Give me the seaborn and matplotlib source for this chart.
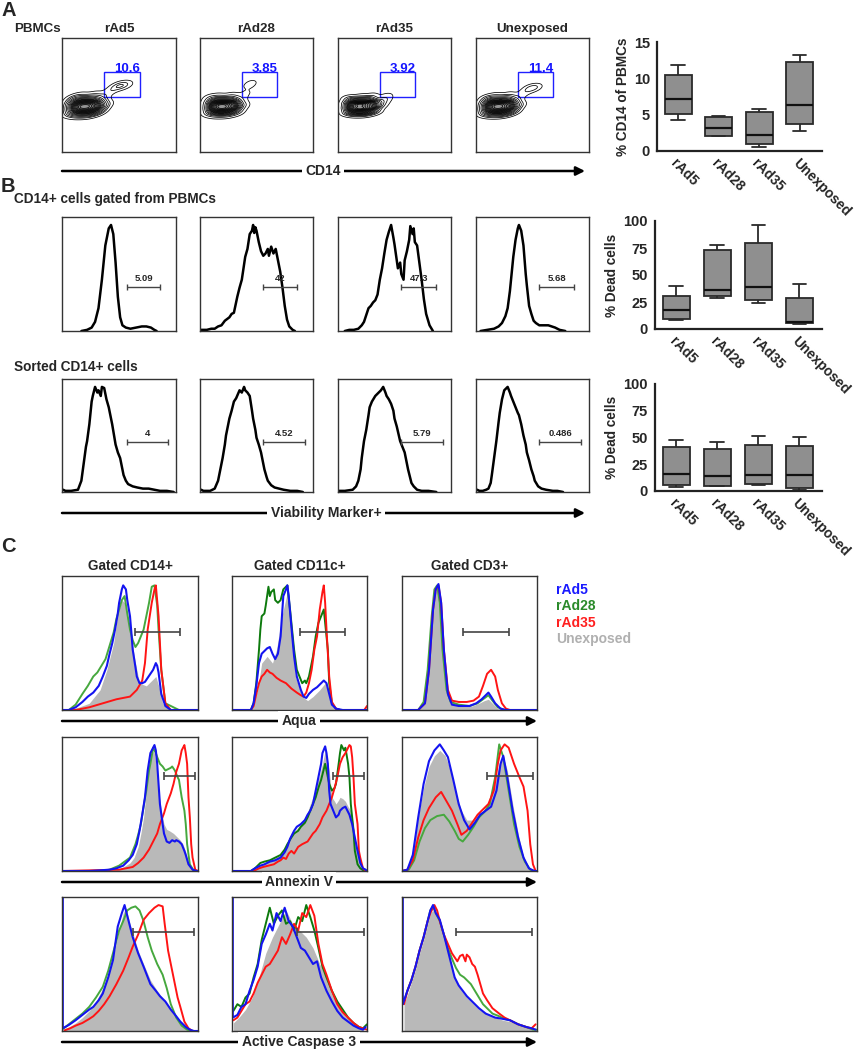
import numpy as np
import pandas as pd
import matplotlib
matplotlib.use('Agg')
import matplotlib.pyplot as plt
import seaborn as sns

# ---------------- data ----------------
groups = ['rAd5', 'rAd28', 'rAd35', 'Unexposed']

# A: % CD14 of PBMCs  (min, q1, median, q3, max)
cd14_box = [[4.3, 5.1, 7.1, 10.4, 11.9],
            [2.0, 2.1, 3.2, 4.7, 4.8],
            [0.5, 1.0, 2.2, 5.3, 5.8],
            [2.8, 3.7, 6.3, 12.2, 13.2]]
# B: % dead cells, CD14+ gated from PBMCs
dead_gated_box = [[8, 9, 18, 31, 40],
                  [29, 31, 36, 73, 78],
                  [24, 27, 39, 80, 96],
                  [4.5, 5.5, 6.5, 29, 42]]
# B: % dead cells, sorted CD14+
dead_sorted_box = [[3.5, 5.5, 15.5, 41, 48],
                   [4.5, 5, 14, 39, 46],
                   [5.5, 6.5, 14.5, 43, 51],
                   [0.5, 3, 15, 42, 50]]

# A: gate percentages and contour events (x, y, weight) in relative units
gate_a = ['10.6', '3.85', '3.92', '11.4']
blob_events = [(0.09, 0.35, 3), (0.09, 0.39, 4), (0.09, 0.43, 3.5), (0.09, 0.47, 1.5),
               (0.14, 0.34, 3), (0.14, 0.38, 5), (0.14, 0.42, 5), (0.14, 0.46, 2.5),
               (0.19, 0.34, 3), (0.19, 0.38, 5), (0.19, 0.42, 5), (0.19, 0.46, 2.5),
               (0.24, 0.34, 3), (0.24, 0.38, 5), (0.24, 0.42, 5), (0.24, 0.46, 2.5),
               (0.29, 0.35, 2.5), (0.29, 0.39, 4), (0.29, 0.43, 4), (0.29, 0.47, 2),
               (0.33, 0.36, 2), (0.33, 0.40, 3), (0.33, 0.44, 2.5), (0.37, 0.41, 1.5)]
tail_rad5 = [(0.16, 0.50, 0.5), (0.28, 0.51, 0.6), (0.38, 0.50, 0.8), (0.43, 0.54, 0.7),
             (0.48, 0.575, 1.2), (0.52, 0.585, 1.4), (0.56, 0.585, 0.8)]
tail_rad28 = [(0.16, 0.49, 0.5), (0.28, 0.50, 0.5), (0.37, 0.48, 0.6), (0.41, 0.52, 0.5),
              (0.43, 0.58, 0.6), (0.46, 0.61, 0.5)]
tail_rad35 = [(0.39, 0.44, 1.6), (0.42, 0.47, 1.2), (0.44, 0.50, 0.6), (0.31, 0.50, 0.6),
              (0.21, 0.50, 0.4)]
tail_unexp = [(0.17, 0.50, 0.5), (0.29, 0.51, 0.5), (0.39, 0.49, 0.7), (0.44, 0.53, 0.7),
              (0.48, 0.56, 1.2), (0.52, 0.565, 1.2)]

# B: viability histograms (x, y) relative
b_gated_rad5 = [(0.17, 0), (0.22, 0.01), (0.26, 0.03), (0.29, 0.08), (0.32, 0.2), (0.35, 0.45), (0.38, 0.75),
                (0.41, 0.9), (0.43, 0.93), (0.45, 0.85), (0.47, 0.6), (0.49, 0.3), (0.51, 0.12), (0.53, 0.05),
                (0.56, 0.03), (0.6, 0.02), (0.65, 0.03), (0.7, 0.04), (0.74, 0.04), (0.78, 0.03), (0.81, 0.01),
                (0.83, 0)]
b_gated_rad28 = [(0.01, 0.01), (0.06, 0.01), (0.10, 0.02), (0.13, 0.02), (0.16, 0.04), (0.19, 0.05),
                 (0.22, 0.09), (0.26, 0.12), (0.28, 0.15), (0.30, 0.16), (0.33, 0.3), (0.35, 0.38),
                 (0.37, 0.45), (0.40, 0.65), (0.42, 0.72), (0.44, 0.85), (0.46, 0.88), (0.47, 0.93),
                 (0.48, 0.86), (0.49, 0.91), (0.50, 0.88), (0.52, 0.78), (0.54, 0.7), (0.56, 0.66),
                 (0.58, 0.68), (0.60, 0.72), (0.61, 0.66), (0.63, 0.74), (0.65, 0.68), (0.67, 0.72),
                 (0.69, 0.62), (0.71, 0.52), (0.73, 0.38), (0.75, 0.22), (0.77, 0.1), (0.79, 0.04),
                 (0.82, 0.01), (0.84, 0)]
b_gated_rad35 = [(0.06, 0), (0.10, 0.01), (0.14, 0.01), (0.18, 0.02), (0.21, 0.05), (0.23, 0.08),
                 (0.25, 0.14), (0.27, 0.2), (0.29, 0.22), (0.31, 0.25), (0.33, 0.27), (0.35, 0.32),
                 (0.37, 0.45), (0.39, 0.55), (0.41, 0.68), (0.43, 0.8), (0.45, 0.87), (0.47, 0.93),
                 (0.49, 0.82), (0.50, 0.76), (0.52, 0.62), (0.53, 0.55), (0.55, 0.6), (0.56, 0.5),
                 (0.58, 0.45), (0.59, 0.62), (0.61, 0.7), (0.63, 0.8), (0.64, 0.92), (0.66, 0.85),
                 (0.67, 0.9), (0.68, 0.78), (0.70, 0.75), (0.72, 0.6), (0.74, 0.45), (0.76, 0.28),
                 (0.78, 0.15), (0.81, 0.05), (0.84, 0)]
b_gated_unexp = [(0.04, 0), (0.10, 0.01), (0.16, 0.02), (0.20, 0.04), (0.23, 0.07), (0.26, 0.13),
                 (0.28, 0.2), (0.30, 0.35), (0.31, 0.45), (0.33, 0.65), (0.35, 0.8), (0.37, 0.9),
                 (0.38, 0.93), (0.40, 0.88), (0.42, 0.75), (0.44, 0.5), (0.45, 0.4), (0.47, 0.22),
                 (0.49, 0.15), (0.51, 0.09), (0.53, 0.07), (0.56, 0.05), (0.60, 0.05), (0.64, 0.05),
                 (0.67, 0.04), (0.70, 0.03), (0.74, 0.01), (0.79, 0)]
b_sorted_rad5 = [(0.01, 0.02), (0.03, 0.01), (0.08, 0.01), (0.14, 0.02), (0.17, 0.1), (0.19, 0.25),
                 (0.21, 0.4), (0.22, 0.45), (0.24, 0.6), (0.26, 0.8), (0.27, 0.85), (0.29, 0.93),
                 (0.31, 0.88), (0.32, 0.9), (0.34, 0.85), (0.35, 0.93), (0.37, 0.92), (0.39, 0.82),
                 (0.41, 0.75), (0.43, 0.65), (0.44, 0.6), (0.46, 0.48), (0.47, 0.42), (0.49, 0.35),
                 (0.51, 0.3), (0.53, 0.2), (0.54, 0.15), (0.56, 0.1), (0.58, 0.07), (0.62, 0.05),
                 (0.66, 0.04), (0.71, 0.03), (0.76, 0.03), (0.81, 0.02), (0.86, 0.01), (0.92, 0.01),
                 (0.98, 0)]
b_sorted_rad28 = [(0.01, 0.02), (0.03, 0.01), (0.09, 0.01), (0.13, 0.03), (0.16, 0.1), (0.18, 0.2),
                  (0.20, 0.3), (0.22, 0.42), (0.23, 0.5), (0.25, 0.6), (0.26, 0.65), (0.28, 0.72),
                  (0.30, 0.8), (0.32, 0.83), (0.35, 0.9), (0.37, 0.88), (0.39, 0.93), (0.40, 0.9),
                  (0.42, 0.88), (0.44, 0.85), (0.46, 0.72), (0.47, 0.65), (0.49, 0.55), (0.50, 0.48),
                  (0.52, 0.42), (0.54, 0.35), (0.56, 0.25), (0.57, 0.2), (0.59, 0.13), (0.60, 0.1),
                  (0.63, 0.06), (0.66, 0.04), (0.70, 0.03), (0.74, 0.02), (0.80, 0.01), (0.86, 0.01),
                  (0.91, 0)]
b_sorted_rad35 = [(0.01, 0.01), (0.06, 0.01), (0.13, 0.02), (0.16, 0.05), (0.18, 0.1), (0.20, 0.2),
                  (0.21, 0.3), (0.23, 0.45), (0.25, 0.55), (0.27, 0.68), (0.28, 0.75), (0.30, 0.8),
                  (0.33, 0.85), (0.36, 0.88), (0.38, 0.9), (0.40, 0.93), (0.42, 0.88), (0.43, 0.85),
                  (0.45, 0.82), (0.47, 0.78), (0.49, 0.72), (0.50, 0.65), (0.52, 0.58), (0.55, 0.45),
                  (0.57, 0.4), (0.59, 0.35), (0.61, 0.25), (0.62, 0.2), (0.64, 0.12), (0.65, 0.08),
                  (0.67, 0.05), (0.70, 0.02), (0.74, 0.01), (0.80, 0.01), (0.87, 0)]
b_sorted_unexp = [(0.01, 0.02), (0.03, 0.01), (0.06, 0.01), (0.09, 0.02), (0.11, 0.03), (0.13, 0.08),
                  (0.14, 0.15), (0.16, 0.3), (0.18, 0.45), (0.20, 0.62), (0.21, 0.7), (0.23, 0.82),
                  (0.25, 0.9), (0.27, 0.92), (0.28, 0.93), (0.30, 0.88), (0.31, 0.85), (0.33, 0.8),
                  (0.35, 0.75), (0.37, 0.7), (0.38, 0.68), (0.40, 0.6), (0.42, 0.5), (0.44, 0.42),
                  (0.45, 0.35), (0.47, 0.28), (0.49, 0.2), (0.51, 0.14), (0.52, 0.1), (0.55, 0.05),
                  (0.58, 0.03), (0.62, 0.02), (0.68, 0.01), (0.72, 0.01), (0.77, 0)]
# gate (start, end, height, label)
gates_b_gated = [(0.57, 0.86, 0.39, '5.09'), (0.56, 0.86, 0.39, '42'),
                 (0.56, 0.87, 0.39, '47.3'), (0.56, 0.87, 0.39, '5.68')]
gates_b_sorted = [(0.57, 0.93, 0.44, '4'), (0.56, 0.93, 0.44, '4.52'),
                  (0.56, 0.93, 0.44, '5.79'), (0.56, 0.93, 0.44, '0.486')]

# C: overlaid histograms per gated population and marker
c_cd14_aqua = {
    'Unexposed': [(0, 0), (0.05, 0), (0.12, 0.02), (0.20, 0.05), (0.28, 0.15), (0.33, 0.3), (0.38, 0.5),
                  (0.41, 0.72), (0.44, 0.82), (0.46, 0.8), (0.50, 0.6), (0.54, 0.35), (0.57, 0.2),
                  (0.62, 0.18), (0.66, 0.22), (0.69, 0.25), (0.72, 0.15), (0.74, 0.05), (0.79, 0), (1, 0)],
    'rAd28': [(0, 0), (0.05, 0), (0.10, 0.04), (0.15, 0.12), (0.19, 0.18), (0.23, 0.25), (0.26, 0.28),
              (0.29, 0.33), (0.32, 0.38), (0.35, 0.48), (0.38, 0.58), (0.40, 0.68), (0.42, 0.75),
              (0.44, 0.82), (0.46, 0.85), (0.48, 0.72), (0.50, 0.6), (0.52, 0.52), (0.54, 0.47),
              (0.56, 0.5), (0.58, 0.55), (0.60, 0.6), (0.62, 0.7), (0.64, 0.8), (0.66, 0.92),
              (0.68, 0.93), (0.70, 0.78), (0.71, 0.6), (0.73, 0.3), (0.76, 0.05), (0.82, 0.02),
              (0.86, 0), (1, 0)],
    'rAd35': [(0, 0), (0.10, 0), (0.20, 0.02), (0.30, 0.05), (0.40, 0.08), (0.50, 0.1), (0.55, 0.15),
              (0.59, 0.22), (0.61, 0.35), (0.63, 0.6), (0.66, 0.8), (0.68, 0.9), (0.69, 0.93),
              (0.71, 0.7), (0.73, 0.3), (0.76, 0.05), (0.80, 0), (1, 0)],
    'rAd5': [(0, 0), (0.05, 0), (0.10, 0.02), (0.15, 0.06), (0.19, 0.1), (0.23, 0.13), (0.27, 0.18),
             (0.30, 0.25), (0.33, 0.33), (0.35, 0.42), (0.37, 0.5), (0.39, 0.6), (0.41, 0.72),
             (0.42, 0.8), (0.44, 0.9), (0.45, 0.93), (0.47, 0.9), (0.48, 0.82), (0.50, 0.7),
             (0.51, 0.58), (0.52, 0.45), (0.54, 0.32), (0.55, 0.25), (0.57, 0.2), (0.59, 0.2),
             (0.61, 0.21), (0.63, 0.24), (0.65, 0.27), (0.67, 0.3), (0.69, 0.35), (0.70, 0.33),
             (0.71, 0.28), (0.73, 0.12), (0.76, 0.03), (0.80, 0), (1, 0)],
}
c_cd11c_aqua = {
    'Unexposed': [(0, 0), (0.14, 0), (0.19, 0.15), (0.22, 0.35), (0.26, 0.4), (0.30, 0.35), (0.33, 0.45),
                  (0.37, 0.7), (0.41, 0.88), (0.44, 0.6), (0.47, 0.25), (0.52, 0.1), (0.56, 0.07),
                  (0.60, 0.1), (0.65, 0.15), (0.69, 0.2), (0.72, 0.12), (0.74, 0.03), (0.78, 0), (1, 0)],
    'rAd28': [(0, 0), (0.14, 0), (0.16, 0.05), (0.18, 0.2), (0.20, 0.45), (0.21, 0.6), (0.22, 0.7),
              (0.24, 0.72), (0.25, 0.78), (0.27, 0.92), (0.28, 0.85), (0.29, 0.88), (0.31, 0.9),
              (0.32, 0.82), (0.34, 0.8), (0.36, 0.82), (0.38, 0.9), (0.40, 0.92), (0.41, 0.93),
              (0.43, 0.75), (0.45, 0.55), (0.46, 0.45), (0.48, 0.3), (0.50, 0.25), (0.52, 0.2),
              (0.54, 0.22), (0.55, 0.2), (0.57, 0.25), (0.58, 0.3), (0.60, 0.4), (0.62, 0.55),
              (0.64, 0.65), (0.66, 0.7), (0.68, 0.75), (0.69, 0.65), (0.71, 0.45), (0.72, 0.2),
              (0.74, 0.05), (0.77, 0.01), (0.80, 0), (1, 0)],
    'rAd35': [(0, 0), (0.14, 0), (0.16, 0.03), (0.18, 0.12), (0.20, 0.2), (0.22, 0.25), (0.24, 0.27),
              (0.26, 0.3), (0.28, 0.28), (0.30, 0.27), (0.33, 0.24), (0.36, 0.22), (0.40, 0.2),
              (0.44, 0.16), (0.48, 0.13), (0.51, 0.11), (0.53, 0.1), (0.55, 0.13), (0.57, 0.2),
              (0.59, 0.3), (0.61, 0.45), (0.63, 0.55), (0.65, 0.75), (0.67, 0.88), (0.68, 0.93),
              (0.69, 0.8), (0.70, 0.6), (0.72, 0.25), (0.74, 0.06), (0.77, 0.01), (0.80, 0),
              (0.98, 0), (1, 0.03)],
    'rAd5': [(0, 0), (0.14, 0), (0.16, 0.05), (0.18, 0.18), (0.20, 0.35), (0.22, 0.42), (0.24, 0.44),
             (0.26, 0.46), (0.28, 0.47), (0.30, 0.42), (0.32, 0.38), (0.34, 0.42), (0.36, 0.55),
             (0.37, 0.7), (0.38, 0.85), (0.40, 0.9), (0.41, 0.93), (0.42, 0.85), (0.44, 0.62),
             (0.46, 0.4), (0.48, 0.25), (0.51, 0.15), (0.53, 0.1), (0.55, 0.09), (0.57, 0.12),
             (0.60, 0.15), (0.63, 0.17), (0.66, 0.2), (0.68, 0.22), (0.70, 0.2), (0.72, 0.12),
             (0.74, 0.04), (0.77, 0.01), (0.82, 0), (1, 0)],
}
c_cd3_aqua = {
    'Unexposed': [(0, 0), (0.12, 0), (0.17, 0.08), (0.20, 0.35), (0.23, 0.75), (0.25, 0.88), (0.27, 0.9),
                  (0.29, 0.75), (0.31, 0.4), (0.34, 0.12), (0.37, 0.05), (0.45, 0.03), (0.52, 0.03),
                  (0.57, 0.05), (0.61, 0.07), (0.64, 0.08), (0.67, 0.05), (0.71, 0.01), (0.75, 0), (1, 0)],
    'rAd28': [(0, 0), (0.12, 0), (0.16, 0.06), (0.19, 0.3), (0.22, 0.7), (0.24, 0.9), (0.26, 0.93),
              (0.28, 0.8), (0.30, 0.45), (0.33, 0.15), (0.36, 0.06), (0.42, 0.04), (0.50, 0.03),
              (0.56, 0.05), (0.60, 0.08), (0.64, 0.11), (0.67, 0.07), (0.71, 0.02), (0.76, 0), (1, 0)],
    'rAd35': [(0, 0), (0.12, 0), (0.17, 0.05), (0.20, 0.3), (0.23, 0.75), (0.25, 0.9), (0.27, 0.93),
              (0.29, 0.8), (0.31, 0.45), (0.34, 0.15), (0.37, 0.07), (0.42, 0.06), (0.48, 0.06),
              (0.53, 0.07), (0.57, 0.1), (0.60, 0.18), (0.63, 0.27), (0.66, 0.3), (0.69, 0.25),
              (0.71, 0.15), (0.74, 0.05), (0.77, 0.01), (0.80, 0), (1, 0)],
    'rAd5': [(0, 0), (0.12, 0), (0.17, 0.05), (0.20, 0.3), (0.23, 0.75), (0.25, 0.9), (0.27, 0.94),
             (0.29, 0.8), (0.31, 0.45), (0.34, 0.12), (0.37, 0.04), (0.42, 0.03), (0.50, 0.03),
             (0.55, 0.05), (0.59, 0.08), (0.62, 0.11), (0.64, 0.13), (0.66, 0.1), (0.69, 0.05),
             (0.73, 0.01), (0.77, 0), (1, 0)],
}
c_cd14_annexin = {
    'Unexposed': [(0, 0), (0.40, 0.01), (0.45, 0.03), (0.50, 0.06), (0.53, 0.1), (0.56, 0.18), (0.58, 0.28),
                  (0.60, 0.4), (0.62, 0.6), (0.63, 0.75), (0.65, 0.85), (0.66, 0.9), (0.68, 0.88),
                  (0.70, 0.72), (0.71, 0.6), (0.73, 0.45), (0.75, 0.35), (0.77, 0.31), (0.79, 0.3),
                  (0.82, 0.28), (0.84, 0.26), (0.87, 0.23), (0.89, 0.2), (0.91, 0.14), (0.93, 0.06),
                  (0.97, 0.01), (1, 0)],
    'rAd28': [(0, 0), (0.30, 0), (0.35, 0.01), (0.42, 0.04), (0.46, 0.07), (0.50, 0.1), (0.54, 0.2),
              (0.56, 0.27), (0.58, 0.35), (0.60, 0.48), (0.62, 0.6), (0.64, 0.75), (0.65, 0.8),
              (0.67, 0.92), (0.69, 0.88), (0.70, 0.85), (0.72, 0.8), (0.74, 0.78), (0.76, 0.75),
              (0.78, 0.76), (0.80, 0.77), (0.81, 0.78), (0.83, 0.75), (0.85, 0.7), (0.86, 0.68),
              (0.88, 0.55), (0.90, 0.45), (0.91, 0.35), (0.92, 0.2), (0.94, 0.05), (0.97, 0), (1, 0)],
    'rAd35': [(0, 0), (0.42, 0.01), (0.47, 0.02), (0.52, 0.03), (0.56, 0.06), (0.60, 0.1), (0.64, 0.16),
              (0.67, 0.22), (0.70, 0.28), (0.72, 0.35), (0.75, 0.43), (0.77, 0.5), (0.80, 0.58),
              (0.82, 0.65), (0.84, 0.74), (0.86, 0.8), (0.88, 0.9), (0.89, 0.92), (0.90, 0.94),
              (0.91, 0.88), (0.92, 0.8), (0.93, 0.55), (0.94, 0.4), (0.95, 0.2), (0.96, 0.1),
              (0.98, 0.01), (1, 0)],
    'rAd5': [(0, 0), (0.20, 0), (0.28, 0.005), (0.35, 0.01), (0.40, 0.02), (0.45, 0.04), (0.49, 0.08),
             (0.52, 0.12), (0.55, 0.2), (0.57, 0.3), (0.59, 0.42), (0.61, 0.55), (0.62, 0.65),
             (0.63, 0.75), (0.65, 0.88), (0.66, 0.9), (0.68, 0.94), (0.69, 0.9), (0.70, 0.8),
             (0.71, 0.65), (0.72, 0.5), (0.74, 0.35), (0.75, 0.28), (0.77, 0.22), (0.79, 0.21),
             (0.81, 0.23), (0.83, 0.22), (0.84, 0.23), (0.86, 0.22), (0.88, 0.2), (0.90, 0.15),
             (0.91, 0.12), (0.93, 0.05), (0.96, 0.01), (0.99, 0), (1, 0)],
}
c_cd11c_annexin = {
    'Unexposed': [(0, 0), (0.14, 0), (0.18, 0.02), (0.21, 0.04), (0.25, 0.06), (0.28, 0.08), (0.32, 0.1),
                  (0.36, 0.12), (0.39, 0.16), (0.41, 0.2), (0.44, 0.25), (0.47, 0.3), (0.50, 0.34),
                  (0.53, 0.38), (0.56, 0.44), (0.58, 0.5), (0.61, 0.58), (0.63, 0.65), (0.65, 0.72),
                  (0.67, 0.8), (0.69, 0.9), (0.71, 0.8), (0.72, 0.75), (0.74, 0.55), (0.76, 0.52),
                  (0.77, 0.5), (0.79, 0.53), (0.80, 0.55), (0.82, 0.54), (0.84, 0.52), (0.86, 0.48),
                  (0.88, 0.45), (0.90, 0.35), (0.91, 0.25), (0.93, 0.12), (0.94, 0.08), (0.96, 0.02),
                  (0.98, 0), (1, 0)],
    'rAd28': [(0, 0), (0.14, 0), (0.17, 0.02), (0.21, 0.06), (0.24, 0.07), (0.28, 0.08), (0.32, 0.1),
              (0.36, 0.12), (0.39, 0.16), (0.41, 0.2), (0.44, 0.25), (0.46, 0.28), (0.49, 0.3),
              (0.51, 0.33), (0.54, 0.36), (0.56, 0.4), (0.58, 0.45), (0.60, 0.5), (0.62, 0.55),
              (0.64, 0.62), (0.66, 0.68), (0.67, 0.72), (0.69, 0.8), (0.70, 0.75), (0.72, 0.65),
              (0.74, 0.6), (0.76, 0.62), (0.77, 0.65), (0.79, 0.8), (0.80, 0.88), (0.81, 0.94),
              (0.83, 0.9), (0.84, 0.92), (0.86, 0.8), (0.87, 0.7), (0.88, 0.5), (0.90, 0.3),
              (0.91, 0.15), (0.93, 0.05), (0.95, 0.02), (0.98, 0), (1, 0)],
    'rAd35': [(0, 0), (0.16, 0), (0.20, 0.02), (0.23, 0.03), (0.27, 0.04), (0.31, 0.05), (0.34, 0.07),
              (0.36, 0.08), (0.38, 0.1), (0.40, 0.09), (0.42, 0.13), (0.44, 0.15), (0.46, 0.13),
              (0.49, 0.18), (0.52, 0.2), (0.56, 0.22), (0.58, 0.25), (0.60, 0.28), (0.62, 0.3),
              (0.65, 0.35), (0.67, 0.4), (0.70, 0.45), (0.72, 0.5), (0.74, 0.55), (0.76, 0.62),
              (0.78, 0.7), (0.80, 0.8), (0.82, 0.85), (0.84, 0.88), (0.85, 0.9), (0.87, 0.94),
              (0.88, 0.93), (0.89, 0.85), (0.90, 0.7), (0.91, 0.5), (0.93, 0.35), (0.94, 0.15),
              (0.95, 0.1), (0.97, 0.02), (0.99, 0), (1, 0)],
    'rAd5': [(0, 0), (0.14, 0), (0.17, 0.02), (0.21, 0.04), (0.24, 0.05), (0.28, 0.07), (0.32, 0.08),
             (0.36, 0.1), (0.39, 0.14), (0.41, 0.18), (0.43, 0.24), (0.46, 0.3), (0.48, 0.33),
             (0.51, 0.35), (0.54, 0.38), (0.56, 0.42), (0.58, 0.45), (0.60, 0.5), (0.62, 0.6),
             (0.64, 0.7), (0.66, 0.8), (0.67, 0.88), (0.69, 0.93), (0.70, 0.88), (0.71, 0.8),
             (0.72, 0.6), (0.73, 0.5), (0.75, 0.45), (0.77, 0.4), (0.79, 0.42), (0.80, 0.45),
             (0.82, 0.47), (0.84, 0.48), (0.85, 0.46), (0.87, 0.42), (0.89, 0.35), (0.90, 0.3),
             (0.92, 0.2), (0.93, 0.15), (0.95, 0.06), (0.97, 0.02), (0.99, 0.01), (1, 0)],
}
c_cd3_annexin = {
    'Unexposed': [(0, 0), (0.04, 0.01), (0.08, 0.12), (0.12, 0.4), (0.16, 0.62), (0.20, 0.78), (0.24, 0.86),
                  (0.28, 0.9), (0.32, 0.86), (0.36, 0.75), (0.40, 0.58), (0.44, 0.45), (0.48, 0.38),
                  (0.52, 0.38), (0.56, 0.42), (0.60, 0.45), (0.64, 0.5), (0.68, 0.62), (0.72, 0.8),
                  (0.75, 0.85), (0.78, 0.75), (0.82, 0.5), (0.86, 0.28), (0.90, 0.1), (0.94, 0.02),
                  (0.98, 0), (1, 0)],
    'rAd28': [(0, 0), (0.05, 0.01), (0.09, 0.08), (0.13, 0.22), (0.17, 0.32), (0.21, 0.38), (0.26, 0.41),
              (0.31, 0.42), (0.35, 0.37), (0.39, 0.3), (0.42, 0.24), (0.45, 0.22), (0.49, 0.27),
              (0.53, 0.33), (0.57, 0.4), (0.61, 0.44), (0.65, 0.5), (0.69, 0.7), (0.72, 0.945),
              (0.75, 0.85), (0.79, 0.6), (0.83, 0.35), (0.87, 0.18), (0.91, 0.07), (0.95, 0.01),
              (0.98, 0), (1, 0)],
    'rAd35': [(0, 0), (0.04, 0.01), (0.08, 0.08), (0.12, 0.25), (0.16, 0.38), (0.20, 0.47), (0.25, 0.55),
              (0.29, 0.59), (0.33, 0.52), (0.37, 0.45), (0.41, 0.35), (0.44, 0.27), (0.48, 0.3),
              (0.52, 0.36), (0.56, 0.42), (0.60, 0.46), (0.64, 0.5), (0.68, 0.6), (0.71, 0.8),
              (0.73, 0.9), (0.76, 0.945), (0.79, 0.92), (0.83, 0.8), (0.87, 0.7), (0.90, 0.63),
              (0.93, 0.45), (0.95, 0.2), (0.97, 0.05), (0.99, 0), (1, 0)],
    'rAd5': [(0, 0), (0.04, 0.01), (0.08, 0.12), (0.12, 0.4), (0.16, 0.65), (0.20, 0.82), (0.24, 0.9),
             (0.28, 0.945), (0.31, 0.9), (0.34, 0.85), (0.38, 0.68), (0.42, 0.5), (0.46, 0.38),
             (0.50, 0.31), (0.54, 0.36), (0.58, 0.42), (0.62, 0.45), (0.66, 0.48), (0.70, 0.6),
             (0.73, 0.8), (0.75, 0.86), (0.78, 0.7), (0.82, 0.45), (0.86, 0.25), (0.90, 0.1),
             (0.94, 0.02), (0.98, 0), (1, 0)],
}
c_cd14_casp = {
    'Unexposed': [(0, 0.01), (0.05, 0.03), (0.10, 0.06), (0.15, 0.1), (0.20, 0.15), (0.25, 0.22), (0.30, 0.32),
                  (0.35, 0.45), (0.39, 0.62), (0.42, 0.75), (0.45, 0.88), (0.47, 0.92), (0.50, 0.8),
                  (0.53, 0.7), (0.56, 0.6), (0.60, 0.5), (0.65, 0.38), (0.70, 0.3), (0.75, 0.23),
                  (0.80, 0.16), (0.85, 0.09), (0.90, 0.03), (0.95, 0.005), (0.98, 0), (1, 0)],
    'rAd28': [(0, 0.01), (0.05, 0.05), (0.10, 0.09), (0.15, 0.13), (0.20, 0.18), (0.25, 0.25), (0.30, 0.33),
              (0.34, 0.45), (0.38, 0.6), (0.42, 0.75), (0.45, 0.82), (0.48, 0.9), (0.51, 0.92),
              (0.54, 0.93), (0.57, 0.9), (0.60, 0.82), (0.63, 0.7), (0.66, 0.6), (0.70, 0.5),
              (0.74, 0.42), (0.77, 0.32), (0.80, 0.2), (0.84, 0.1), (0.88, 0.04), (0.92, 0.01),
              (0.95, 0), (1, 0)],
    'rAd35': [(0.02, 0.005), (0.06, 0.02), (0.10, 0.04), (0.15, 0.06), (0.20, 0.09), (0.23, 0.11),
              (0.27, 0.15), (0.31, 0.2), (0.35, 0.26), (0.40, 0.35), (0.45, 0.45), (0.49, 0.55),
              (0.52, 0.63), (0.56, 0.72), (0.60, 0.83), (0.64, 0.88), (0.68, 0.92), (0.71, 0.94),
              (0.74, 0.93), (0.755, 0.8), (0.78, 0.6), (0.82, 0.4), (0.85, 0.25), (0.87, 0.18),
              (0.90, 0.07), (0.93, 0.02), (0.96, 0), (1, 0)],
    'rAd5': [(0.006, 1.0), (0.006, 0.02), (0.05, 0.045), (0.10, 0.08), (0.15, 0.12), (0.20, 0.16),
             (0.23, 0.18), (0.27, 0.23), (0.30, 0.28), (0.34, 0.4), (0.375, 0.53), (0.41, 0.78),
             (0.44, 0.88), (0.46, 0.94), (0.49, 0.82), (0.52, 0.70), (0.56, 0.58), (0.60, 0.48),
             (0.65, 0.35), (0.69, 0.30), (0.72, 0.26), (0.76, 0.22), (0.80, 0.16), (0.84, 0.11),
             (0.87, 0.07), (0.91, 0.03), (0.94, 0.01), (0.97, 0), (1, 0)],
}
c_cd11c_casp = {
    'Unexposed': [(0.01, 0.06), (0.05, 0.1), (0.10, 0.16), (0.15, 0.25), (0.20, 0.4), (0.25, 0.58),
                  (0.30, 0.7), (0.35, 0.8), (0.40, 0.9), (0.45, 0.8), (0.50, 0.75), (0.55, 0.7),
                  (0.60, 0.62), (0.65, 0.5), (0.70, 0.4), (0.75, 0.28), (0.80, 0.18), (0.85, 0.1),
                  (0.90, 0.05), (0.95, 0.02), (0.99, 0), (1, 0)],
    'rAd28': [(0.01, 0.15), (0.04, 0.2), (0.07, 0.18), (0.10, 0.25), (0.13, 0.28), (0.16, 0.4),
              (0.19, 0.5), (0.22, 0.68), (0.25, 0.8), (0.28, 0.92), (0.31, 0.8), (0.34, 0.86),
              (0.37, 0.9), (0.40, 0.8), (0.43, 0.82), (0.46, 0.75), (0.49, 0.85), (0.52, 0.82),
              (0.55, 0.94), (0.58, 0.85), (0.61, 0.75), (0.64, 0.62), (0.67, 0.48), (0.70, 0.4),
              (0.74, 0.3), (0.78, 0.22), (0.82, 0.16), (0.86, 0.1), (0.90, 0.06), (0.94, 0.03),
              (0.97, 0.02), (1.0, 0.05)],
    'rAd35': [(0.01, 0.08), (0.04, 0.1), (0.07, 0.15), (0.10, 0.2), (0.13, 0.22), (0.16, 0.28),
              (0.19, 0.36), (0.22, 0.42), (0.25, 0.48), (0.28, 0.5), (0.31, 0.55), (0.34, 0.6),
              (0.37, 0.7), (0.40, 0.65), (0.43, 0.72), (0.46, 0.8), (0.49, 0.75), (0.52, 0.88),
              (0.55, 0.85), (0.58, 0.94), (0.61, 0.86), (0.64, 0.65), (0.67, 0.5), (0.70, 0.42),
              (0.74, 0.3), (0.78, 0.2), (0.82, 0.14), (0.86, 0.1), (0.90, 0.06), (0.94, 0.03),
              (0.97, 0.02), (1.0, 0.01)],
    'rAd5': [(0.006, 1.0), (0.006, 0.1), (0.04, 0.12), (0.07, 0.18), (0.10, 0.2), (0.13, 0.3),
             (0.16, 0.38), (0.19, 0.48), (0.22, 0.65), (0.25, 0.72), (0.28, 0.8), (0.30, 0.75),
             (0.33, 0.88), (0.36, 0.82), (0.39, 0.92), (0.42, 0.82), (0.45, 0.78), (0.48, 0.7),
             (0.51, 0.62), (0.54, 0.6), (0.57, 0.55), (0.60, 0.5), (0.63, 0.52), (0.66, 0.4),
             (0.70, 0.3), (0.74, 0.22), (0.78, 0.15), (0.82, 0.1), (0.86, 0.07), (0.90, 0.04),
             (0.94, 0.02), (0.97, 0.01), (0.99, 0.03)],
}
c_cd3_casp = {
    'Unexposed': [(0.015, 0.2), (0.05, 0.3), (0.10, 0.46), (0.13, 0.58), (0.16, 0.68), (0.19, 0.8),
                  (0.21, 0.88), (0.23, 0.9), (0.26, 0.85), (0.28, 0.8), (0.31, 0.7), (0.34, 0.58),
                  (0.37, 0.46), (0.40, 0.38), (0.44, 0.3), (0.48, 0.25), (0.53, 0.2), (0.57, 0.16),
                  (0.62, 0.13), (0.69, 0.1), (0.75, 0.08), (0.80, 0.07), (0.86, 0.05), (0.92, 0.03),
                  (0.97, 0.01), (1, 0.01)],
    'rAd28': [(0.015, 0.22), (0.04, 0.3), (0.07, 0.38), (0.10, 0.48), (0.13, 0.6), (0.16, 0.7),
              (0.19, 0.82), (0.21, 0.9), (0.23, 0.93), (0.25, 0.88), (0.28, 0.82), (0.31, 0.72),
              (0.34, 0.62), (0.37, 0.54), (0.40, 0.47), (0.43, 0.42), (0.46, 0.4), (0.49, 0.37),
              (0.51, 0.35), (0.54, 0.3), (0.57, 0.25), (0.60, 0.2), (0.63, 0.17), (0.67, 0.13),
              (0.72, 0.11), (0.76, 0.09), (0.80, 0.08), (0.86, 0.05), (0.92, 0.03), (0.97, 0.01),
              (1, 0.01)],
    'rAd35': [(0.015, 0.2), (0.04, 0.3), (0.07, 0.38), (0.10, 0.48), (0.13, 0.6), (0.16, 0.7),
              (0.19, 0.82), (0.21, 0.88), (0.24, 0.94), (0.26, 0.9), (0.28, 0.82), (0.31, 0.72),
              (0.34, 0.65), (0.37, 0.58), (0.39, 0.55), (0.41, 0.52), (0.43, 0.56), (0.45, 0.57),
              (0.47, 0.52), (0.48, 0.57), (0.50, 0.55), (0.52, 0.5), (0.54, 0.48), (0.56, 0.42),
              (0.58, 0.35), (0.60, 0.28), (0.63, 0.23), (0.67, 0.17), (0.72, 0.13), (0.76, 0.1),
              (0.80, 0.08), (0.86, 0.05), (0.92, 0.03), (0.96, 0.02), (0.99, 0.05)],
    'rAd5': [(0.006, 1.0), (0.006, 0.2), (0.04, 0.3), (0.07, 0.38), (0.10, 0.48), (0.13, 0.6),
             (0.16, 0.7), (0.19, 0.82), (0.21, 0.9), (0.23, 0.94), (0.25, 0.88), (0.28, 0.83),
             (0.31, 0.72), (0.34, 0.6), (0.37, 0.48), (0.39, 0.4), (0.42, 0.34), (0.45, 0.3),
             (0.48, 0.26), (0.52, 0.22), (0.57, 0.17), (0.62, 0.13), (0.69, 0.1), (0.75, 0.09),
             (0.80, 0.08), (0.86, 0.05), (0.92, 0.03), (0.96, 0.02), (0.99, 0.01)],
}
gates_c = [[(0.54, 0.87, 0.58), (0.50, 0.84, 0.58), (0.45, 0.79, 0.58)],
           [(0.75, 0.975, 0.71), (0.75, 0.98, 0.71), (0.63, 0.97, 0.71)],
           [(0.52, 0.97, 0.74), (0.48, 0.98, 0.74), (0.40, 0.965, 0.74)]]

# ---------------- style ----------------
sns.set_style('white')
plt.rcParams['font.family'] = ['Liberation Sans', 'DejaVu Sans']
plt.rcParams['font.weight'] = 'bold'
plt.rcParams['axes.labelweight'] = 'bold'

W, H = 855, 1050
fig = plt.figure(figsize=(W / 100, H / 100), dpi=100)


def px_axes(x0, y0, x1, y1):
    return fig.add_axes([x0 / W, 1 - y1 / H, (x1 - x0) / W, (y1 - y0) / H])


def frame_axes(x0, y0, x1, y1):
    ax = px_axes(x0, y0, x1, y1)
    ax.set_xticks([])
    ax.set_yticks([])
    for s in ax.spines.values():
        s.set_visible(True)
        s.set_linewidth(1.0)
        s.set_color('#333333')
    return ax


def line(ax, pts, color, lw):
    xs = [p[0] for p in pts]
    ys = [p[1] for p in pts]
    sns.lineplot(x=xs, y=ys, ax=ax, color=color, lw=lw, sort=False,
                 estimator=None, legend=False)


def box_panel(rect, values, ylim, yticks, ylabel):
    ax = px_axes(*rect)
    df = pd.DataFrame({'group': np.repeat(groups, 5),
                       'value': np.concatenate(values)})
    sns.boxplot(data=df, x='group', y='value', order=groups, ax=ax,
                whis=(0, 100), width=0.67, color='#8f8f8f', saturation=1,
                linecolor='#2a2a2a', linewidth=1.3, showfliers=False,
                medianprops=dict(color='#111111', linewidth=1.6))
    ax.set_xlim(-0.52, 3.55)
    ax.set_ylim(*ylim)
    ax.set_yticks(yticks)
    sns.despine(ax=ax)
    for s in ['left', 'bottom']:
        ax.spines[s].set_linewidth(1.6)
        ax.spines[s].set_color('#222222')
    ax.tick_params(axis='y', length=4, width=1.4, labelsize=10.5, pad=1)
    ax.tick_params(axis='x', length=0, labelsize=10, pad=4)
    plt.setp(ax.get_xticklabels(), rotation=-45, ha='left', va='top',
             rotation_mode='anchor')
    ax.set_xlabel('')
    ax.set_ylabel(ylabel, fontsize=9.8, labelpad=3)
    return ax


# ---------------- panel A: CD14 contour plots ----------------
a_cols = [(62, 176), (200, 313), (338, 451), (476, 589)]
a_tails = [tail_rad5, tail_rad28, tail_rad35, tail_unexp]
for (x0, x1), tail, lab in zip(a_cols, a_tails, gate_a):
    ax = frame_axes(x0, 38, x1, 152)
    ev = blob_events + tail
    ex = [e[0] for e in ev]
    ey = [e[1] for e in ev]
    ew = [e[2] for e in ev]
    sns.kdeplot(x=ex, y=ey, weights=ew, ax=ax, fill=True, levels=[0.45, 1],
                bw_adjust=0.8, color='#111111', alpha=0.9)
    sns.kdeplot(x=ex, y=ey, weights=ew, ax=ax, levels=18, thresh=0.02,
                bw_adjust=0.8, color='black', linewidths=0.55)
    ax.set_xlim(0, 1)
    ax.set_ylim(0, 1)
    ax.add_patch(plt.Rectangle((0.37, 0.48), 0.31, 0.22, fill=False,
                               edgecolor='#2020ff', lw=1.0))
    ax.text(0.685, 0.73, lab, color='#1515ff', fontsize=9.5, ha='right',
            va='center')
    ax.set_xlabel('')
    ax.set_ylabel('')
    ax.set_xticks([])
    ax.set_yticks([])

box_panel((657, 42, 822, 151), cd14_box, (0, 15), [0, 5, 10, 15],
          '% CD14 of PBMCs')

# ---------------- panel B: viability histograms ----------------
b_rows = [((217, 331), [b_gated_rad5, b_gated_rad28, b_gated_rad35, b_gated_unexp], gates_b_gated),
          ((379, 492), [b_sorted_rad5, b_sorted_rad28, b_sorted_rad35, b_sorted_unexp], gates_b_sorted)]
for (y0, y1), curves, gates in b_rows:
    for (x0, x1), pts, (g0, g1, gy, glab) in zip(a_cols, curves, gates):
        ax = frame_axes(x0, y0, x1, y1)
        line(ax, pts, 'black', 1.8)
        ax.errorbar((g0 + g1) / 2, gy, xerr=(g1 - g0) / 2, color='#444444',
                    lw=1.0, capsize=2.2, capthick=1.0)
        ax.text((g0 + g1) / 2, gy + 0.035, glab, fontsize=6.8, ha='center',
                va='bottom')
        ax.set_xlim(0, 1)
        ax.set_ylim(0, 1)
        ax.set_xticks([])
        ax.set_yticks([])

box_panel((655, 221, 822, 329), dead_gated_box, (0, 100), [0, 25, 50, 75, 100],
          '% Dead cells')
box_panel((655, 384, 822, 491), dead_sorted_box, (0, 100), [0, 25, 50, 75, 100],
          '% Dead cells')

# ---------------- panel C: overlaid histograms ----------------
c_cols = [(62, 198), (232, 367), (402, 537)]
c_rows = [(576, 710), (737, 871), (897, 1031)]
c_data = [[c_cd14_aqua, c_cd11c_aqua, c_cd3_aqua],
          [c_cd14_annexin, c_cd11c_annexin, c_cd3_annexin],
          [c_cd14_casp, c_cd11c_casp, c_cd3_casp]]
green_cols = ['#46a83e', '#0d7a0d', '#46a83e']
for r, (y0, y1) in enumerate(c_rows):
    for c, (x0, x1) in enumerate(c_cols):
        d = c_data[r][c]
        ax = frame_axes(x0, y0, x1, y1)
        gx = [p[0] for p in d['Unexposed']]
        gy = [p[1] for p in d['Unexposed']]
        ax.fill_between(gx, gy, color='#b9b9b9', lw=0)
        line(ax, d['rAd28'], green_cols[c], 1.4)
        line(ax, d['rAd35'], '#ff1414', 1.4)
        line(ax, d['rAd5'], '#1414f0', 1.5)
        g0, g1, gyy = gates_c[r][c]
        ax.errorbar((g0 + g1) / 2, gyy, xerr=(g1 - g0) / 2, color='#444444',
                    lw=1.2, capsize=3, capthick=1.2)
        ax.set_xlim(0, 1)
        ax.set_ylim(0, 1)
        ax.set_xticks([])
        ax.set_yticks([])

# ---------------- overlay: labels, arrows, legend ----------------
ov = fig.add_axes([0, 0, 1, 1])
ov.set_xlim(0, W)
ov.set_ylim(H, 0)
ov.axis('off')


def arrow(x0, x1, y, label, xc):
    ov.annotate('', xy=(x1, y), xytext=(x0, y),
                arrowprops=dict(arrowstyle='-|>', color='black', lw=1.8,
                                mutation_scale=13, shrinkA=0, shrinkB=0))
    ov.text(xc, y, label, fontsize=10, ha='center', va='center',
            bbox=dict(facecolor='white', edgecolor='none', pad=2.5))


for letter, y in [('A', 10), ('B', 186), ('C', 547)]:
    ov.text(1, y, letter, fontsize=14.5, ha='left', va='center')

ov.text(14, 29, 'PBMCs', fontsize=9.6, ha='left', va='center')
for (x0, x1), g in zip(a_cols, groups):
    ov.text((x0 + x1) / 2, 29, g, fontsize=9.6, ha='center', va='center')
arrow(62, 585, 171, 'CD14', 323)

ov.text(14, 199, 'CD14+ cells gated from PBMCs', fontsize=9.8, ha='left', va='center')
ov.text(14, 367, 'Sorted CD14+ cells', fontsize=9.8, ha='left', va='center')
arrow(62, 585, 513, 'Viability Marker+', 326)

for (x0, x1), t in zip(c_cols, ['Gated CD14+', 'Gated CD11c+', 'Gated CD3+']):
    ov.text((x0 + x1) / 2, 566, t, fontsize=9.8, ha='center', va='center')
arrow(62, 537, 721, 'Aqua', 299)
arrow(62, 537, 882, 'Annexin V', 299)
arrow(62, 537, 1042, 'Active Caspase 3', 299)

legend_colors = ['#1a1aff', '#2a8a2a', '#ff2020', '#b0b0b0']
for i, (g, col) in enumerate(zip(groups, legend_colors)):
    ov.text(556, 590 + 16.5 * i, g, color=col, fontsize=10, ha='left', va='center')

fig.savefig('out.png', dpi=100)
